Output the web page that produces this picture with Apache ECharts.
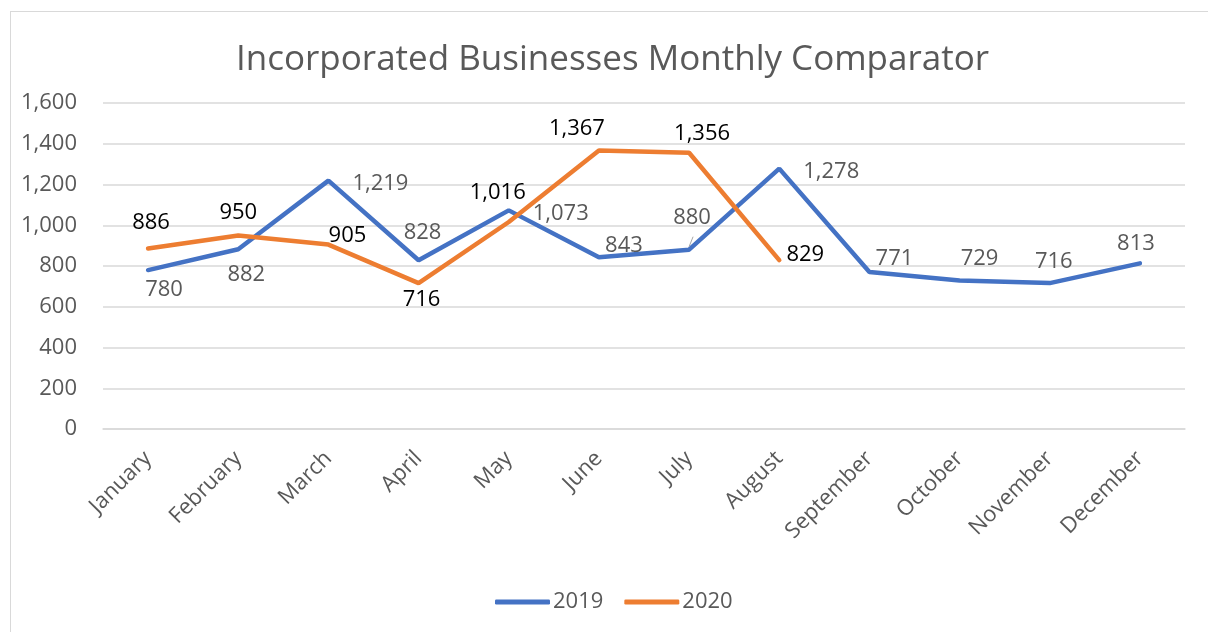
<!DOCTYPE html>
<html>
<head>
<meta charset="utf-8">
<script src="https://cdn.jsdelivr.net/npm/echarts@6/dist/echarts.min.js"></script>
<style>
  html, body { margin: 0; padding: 0; background: #fff; }
  #frame { position: absolute; left: 10px; top: 11px; right: -5px; bottom: -5px;
           border-left: 1.5px solid #d9d9d9; border-top: 1.5px solid #d9d9d9; }
  #chart { position: absolute; left: 0; top: 0; width: 1208px; height: 632px; }
</style>
</head>
<body>
<div id="frame"></div>
<div id="chart"></div>
<script>
const months = ['January','February','March','April','May','June','July','August','September','October','November','December'];
const values2019 = [780, 882, 1219, 828, 1073, 843, 880, 1278, 771, 729, 716, 813];
const values2020 = [886, 950, 905, 716, 1016, 1367, 1356, 829];
const yTicks = { min: 0, max: 1600, interval: 200 };

// label offsets (pixels, from the point to the label centre) – styling only
const offsets2019 = [[16,20],[8,25],[52,3],[4,-28],[52,3],[25,-12],[3,-32],[52,3],[25,-13],[20,-22],[4,-21],[-4,-20]];
const offsets2020 = [[3,-26],[0,-23],[19,-9],[3,17],[-11,-29],[-22,-22],[13,-19],[26,-5]];

const FONT = '"Open Sans", "Noto Sans", sans-serif';

function withLabels(vals, offs) {
  return vals.map((v, i) => ({ value: v, label: { offset: offs[i] } }));
}

const chart = echarts.init(document.getElementById('chart'), null, { renderer: 'canvas' });
chart.setOption({
  backgroundColor: 'transparent',
  animation: false,
  title: {
    text: 'Incorporated Businesses Monthly Comparator',
    left: 231,
    top: 38,
    textStyle: { fontFamily: FONT, fontSize: 35, fontWeight: 'normal', color: '#595959' }
  },
  legend: {
    bottom: 14,
    left: 490,
    icon: 'roundRect',
    itemWidth: 55,
    itemHeight: 5,
    itemGap: 21,
    textStyle: { fontFamily: FONT, fontSize: 22, color: '#595959', padding: [0, 0, 0, -2] },
    data: ['2019', '2020']
  },
  grid: { left: 103, right: 23, top: 103, bottom: 203, containLabel: false },
  xAxis: {
    type: 'category',
    data: months,
    boundaryGap: true,
    axisLine: { show: true, lineStyle: { color: '#d9d9d9', width: 1.5 } },
    axisTick: { show: false },
    axisLabel: { rotate: 45, margin: 26, fontFamily: FONT, fontSize: 22, color: '#595959', interval: 0 }
  },
  yAxis: {
    type: 'value',
    min: yTicks.min, max: yTicks.max, interval: yTicks.interval,
    axisLine: { show: false },
    axisTick: { show: false },
    splitLine: { lineStyle: { color: '#d9d9d9', width: 1.5 } },
    axisLabel: {
      margin: 26, fontFamily: FONT, fontSize: 22, color: '#595959',
      formatter: v => v.toLocaleString('en-US')
    }
  },
  series: [
    {
      name: '2019', type: 'line',
      data: withLabels(values2019, offsets2019),
      symbol: 'circle', symbolSize: 0.01, showSymbol: true,
      itemStyle: { color: '#4472C4' },
      lineStyle: { color: '#4472C4', width: 4.5, cap: 'round' },
      label: {
        show: true, position: 'inside', fontFamily: FONT, fontSize: 22, color: '#595959',
        formatter: p => p.value.toLocaleString('en-US')
      }
    },
    {
      name: '2020', type: 'line',
      data: withLabels(values2020, offsets2020),
      symbol: 'circle', symbolSize: 0.01, showSymbol: true,
      itemStyle: { color: '#ED7D31' },
      lineStyle: { color: '#ED7D31', width: 4.5, cap: 'round' },
      label: {
        show: true, position: 'inside', fontFamily: FONT, fontSize: 22, color: '#000000',
        formatter: p => p.value.toLocaleString('en-US')
      }
    }
  ]
});

// small leader line for the July 2019 label, anchored to the data point via the axis scale
const julyIdx = months.indexOf('July');
const pt = chart.convertToPixel({ gridIndex: 0 }, [julyIdx, values2019[julyIdx]]);
chart.setOption({
  graphic: [{
    type: 'line', z: 100,
    shape: { x1: pt[0], y1: pt[1] - 3, x2: pt[0] + 4, y2: pt[1] - 13 },
    style: { stroke: '#a6a6a6', lineWidth: 1 }
  }]
});
</script>
</body>
</html>
